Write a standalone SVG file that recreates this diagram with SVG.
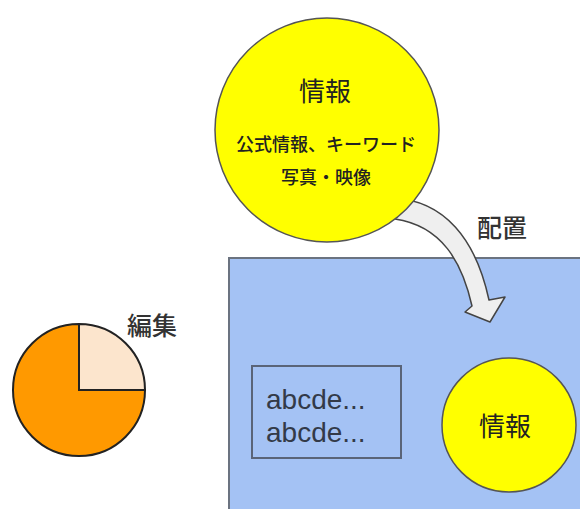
<svg xmlns="http://www.w3.org/2000/svg" width="580" height="509" viewBox="0 0 580 509">
<style>
.jp{font-family:"Noto Sans CJK JP","Noto Sans",sans-serif;fill:#222;text-anchor:middle}
.lbl{font-family:"Noto Sans CJK JP","Noto Sans",sans-serif;fill:#333;font-size:25px;font-weight:500}
.ab{font-family:"Liberation Sans",Arial,sans-serif;fill:#333a48;font-size:28px}
.yc{fill:#ffff00;stroke:#555;stroke-width:1.5}
</style>
<rect width="580" height="509" fill="#fff"/>
<g id="board">
<rect x="229" y="258" width="360" height="260" fill="#a4c2f4" stroke="#6b7380" stroke-width="2"/>
</g>
<g id="connectors">
<path d="M392,198 C445,200 476,240 489,300 L505,297 L490,322 L465,312 L472,306 C462,262 442,226 395,219 Z" fill="#efefef" stroke="#444" stroke-width="1.5" stroke-linejoin="round"/>
</g>
<g id="info-source">
<circle class="yc" cx="327" cy="130" r="112"/>
<text class="jp" x="325" y="101" font-size="26">情報</text>
<text class="jp" x="326" y="151" font-size="18" font-weight="500">公式情報、キーワード</text>
<text class="jp" x="326" y="184" font-size="18" font-weight="500">写真・映像</text>
</g>
<g id="label-haichi">
<text class="lbl" x="477" y="237">配置</text>
</g>
<g id="pie">
<path d="M79,390 L145,390 A66,66 0 1 1 79,324 Z" fill="#ff9900" stroke="#222" stroke-width="2"/>
<path d="M79,390 L79,324 A66,66 0 0 1 145,390 Z" fill="#fce5cd" stroke="#222" stroke-width="2"/>
</g>
<g id="label-henshu">
<text class="lbl" x="127" y="335" font-size="27">編集</text>
</g>
<g id="textbox">
<rect x="252" y="366" width="149" height="92" fill="none" stroke="#5a6478" stroke-width="2"/>
<text class="ab" x="266" y="409">abcde...</text>
<text class="ab" x="266" y="442">abcde...</text>
</g>
<g id="info-placed">
<circle class="yc" cx="509" cy="425" r="67"/>
<text class="jp" x="505" y="436" font-size="26">情報</text>
</g>
</svg>
